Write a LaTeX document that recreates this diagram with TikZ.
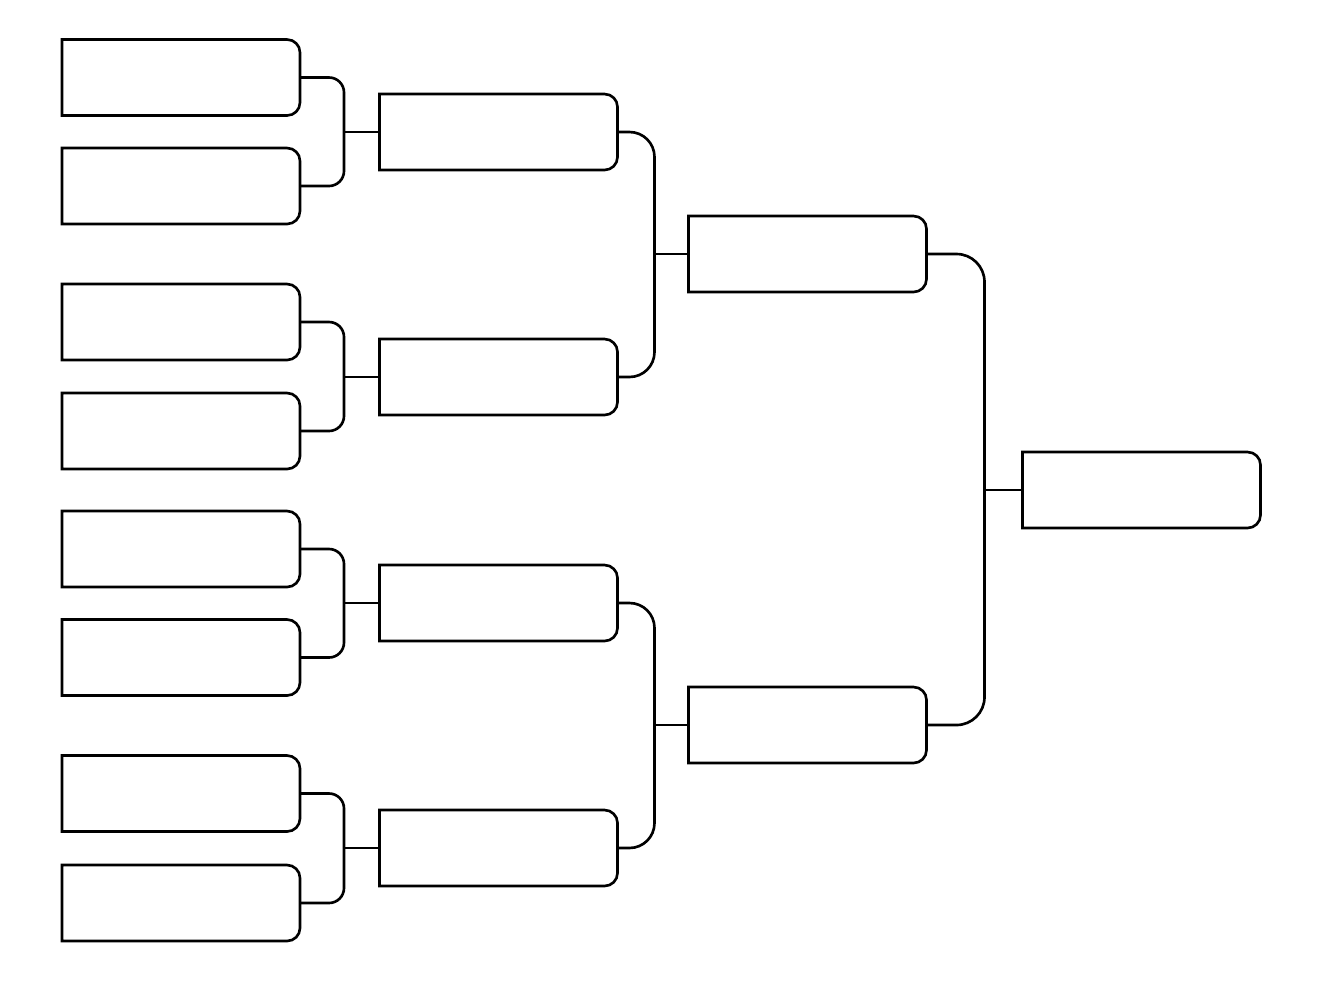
\documentclass[tikz,border=0pt]{standalone}
\usepackage{tikz}
\usetikzlibrary{positioning, calc}

\tikzset{
  slot/.style={minimum width=2.38cm, minimum height=0.76cm, inner sep=0pt, outer sep=0pt},
  bline/.style={line width=0.75pt, black},
}

\begin{document}
\begin{tikzpicture}
        \useasboundingbox (0,0) rectangle (13.23,9.80);

        % --- Round 1 ---
        \node[slot] (a1) at (1.81, 9.025) {};
        \node[slot] (a2) at (1.81, 7.94) {};
        \node[slot] (a3) at (1.81, 6.58) {};
        \node[slot] (a4) at (1.81, 5.49) {};
        \node[slot] (a5) at (1.81, 4.31) {};
        \node[slot] (a6) at (1.81, 3.225) {};
        \node[slot] (a7) at (1.81, 1.865) {};
        \node[slot] (a8) at (1.81, 0.77) {};

        % --- Round 2 ---
        \node[slot] (b1) at (4.985, 8.48) {};
        \node[slot] (b2) at (4.985, 6.03) {};
        \node[slot] (b3) at (4.985, 3.77) {};
        \node[slot] (b4) at (4.985, 1.32) {};

        % --- Round 3 ---
        \node[slot] (c1) at (8.075, 7.26) {};
        \node[slot] (c2) at (8.075, 2.55) {};

        % --- Final ---
        \node[slot] (f) at (11.415, 4.90) {};

        % Box outlines: square on the left, rounded on the right
        \foreach \n in {a1,a2,a3,a4,a5,a6,a7,a8,b1,b2,b3,b4,c1,c2,f} {
          \draw[bline] (\n.north) -- (\n.north west) -- (\n.south west) -- (\n.south)
            [rounded corners=1.3mm] -- (\n.south east) -- (\n.north east) -- cycle;
        }

        % --- Brackets round 1 -> round 2 ---
        \draw[bline, rounded corners=1.5mm] (a1.east) -- ++(0.44,0) |- (a2.east);
        \draw[bline, rounded corners=1.5mm] (a3.east) -- ++(0.44,0) |- (a4.east);
        \draw[bline, rounded corners=1.5mm] (a5.east) -- ++(0.44,0) |- (a6.east);
        \draw[bline, rounded corners=1.5mm] (a7.east) -- ++(0.44,0) |- (a8.east);
        \draw[bline] (b1.west) -- ++(-0.35,0);
        \draw[bline] (b2.west) -- ++(-0.35,0);
        \draw[bline] (b3.west) -- ++(-0.35,0);
        \draw[bline] (b4.west) -- ++(-0.35,0);

        % --- Brackets round 2 -> round 3 ---
        \draw[bline, rounded corners=2.5mm] (b1.east) -- ++(0.37,0) |- (b2.east);
        \draw[bline, rounded corners=2.5mm] (b3.east) -- ++(0.37,0) |- (b4.east);
        \draw[bline] (c1.west) -- ++(-0.33,0);
        \draw[bline] (c2.west) -- ++(-0.33,0);

        % --- Bracket round 3 -> final ---
        \draw[bline, rounded corners=2.8mm] (c1.east) -- ++(0.58,0) |- (c2.east);
        \draw[bline] (f.west) -- ++(-0.37,0);
\end{tikzpicture}
\end{document}
